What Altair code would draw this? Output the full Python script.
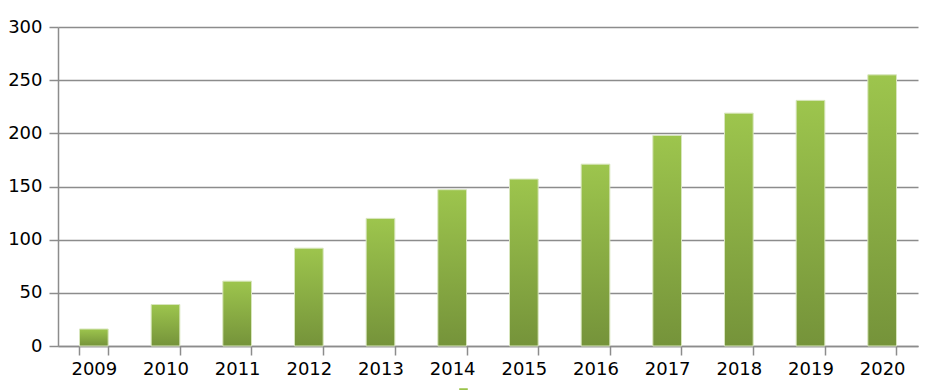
import altair as alt
import pandas as pd

years = ["2009", "2010", "2011", "2012", "2013", "2014",
         "2015", "2016", "2017", "2018", "2019", "2020"]
values = [16, 39, 61, 92, 120, 147, 157, 171, 198, 219, 231, 255]
series = ["Series1"] * len(years)

df = pd.DataFrame({"year": years, "value": values, "series": series})

grad = alt.Gradient(
    gradient="linear",
    stops=[alt.GradientStop(color="#9dc54d", offset=0),
           alt.GradientStop(color="#75933a", offset=1)],
    x1=0, x2=0, y1=0, y2=1,
)

x_enc = alt.X(
    "year:N", title=None, sort=years,
    scale=alt.Scale(paddingInner=0.6, paddingOuter=0.3),
    axis=alt.Axis(labelAngle=0, tickBand="extent", tickSize=9, labelPadding=5,
                  tickColor="#8c8c8c", tickWidth=1.5, domainColor="#8c8c8c",
                  domainWidth=1.5, labelFont="DejaVu Sans", labelFontSize=18,
                  labelColor="#000000", grid=False),
)
y_enc = alt.Y(
    "value:Q", title=None,
    scale=alt.Scale(domain=[0, 300], nice=False),
    axis=alt.Axis(values=[0, 50, 100, 150, 200, 250, 300], tickSize=9,
                  labelPadding=7, tickColor="#8c8c8c", tickWidth=1.5,
                  domainColor="#8c8c8c", domainWidth=1.5, gridColor="#8c8c8c",
                  gridWidth=1.5, labelFont="DejaVu Sans", labelFontSize=18,
                  labelColor="#000000"),
)

bars = alt.Chart(df).mark_bar(
    fill=grad, stroke="#d8e6bd", strokeWidth=1
).encode(x=x_enc, y=y_enc)

legend_layer = alt.Chart(df).mark_square(opacity=0).encode(
    x=alt.X("year:N", sort=years),
    y=alt.Y("value:Q"),
    color=alt.Color(
        "series:N",
        scale=alt.Scale(range=["#9bc34b"]),
        legend=alt.Legend(title=None, orient="none", legendX=401, legendY=361,
                          padding=0, symbolType="square", symbolSize=50,
                          symbolOpacity=1, symbolStrokeColor="#9bc34b",
                          labelExpr="''", labelFontSize=8),
    ),
)

chart = alt.layer(bars, legend_layer).properties(
    width=860, height=319,
    autosize=alt.AutoSizeParams(type="none"),
    padding={"left": 50, "top": 19, "right": 2, "bottom": 55},
).configure_view(stroke=None)

chart.save("out.html", embed_options={"renderer": "svg", "actions": False})
